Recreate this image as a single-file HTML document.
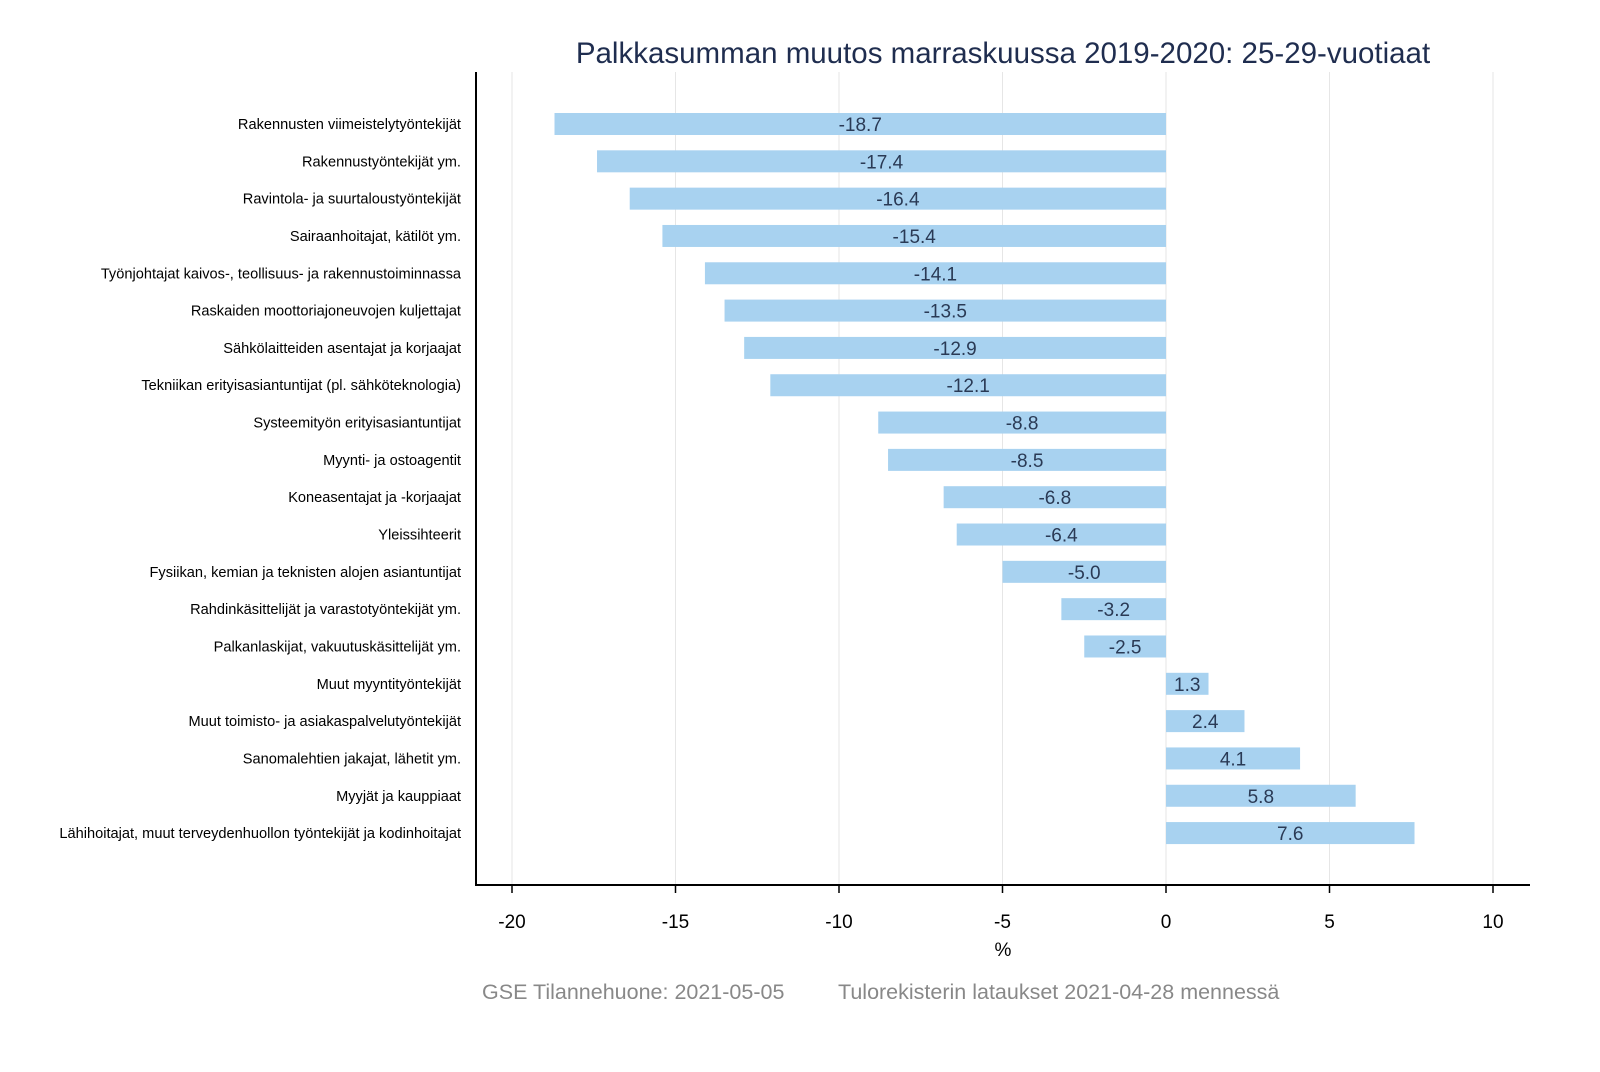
<!DOCTYPE html>
<html><head><meta charset="utf-8"><style>body{margin:0;background:#fff}</style></head><body>
<svg width="1600" height="1067" xmlns="http://www.w3.org/2000/svg" font-family="Liberation Sans, Arial, sans-serif">
<rect width="1600" height="1067" fill="#fff"/>
<text x="1003" y="63" text-anchor="middle" font-size="29.5" fill="#1f2d4f">Palkkasumman muutos marraskuussa 2019-2020: 25-29-vuotiaat</text>
<g stroke="#e6e6e6" stroke-width="1">
<line x1="512" y1="72" x2="512" y2="885"/><line x1="675.5" y1="72" x2="675.5" y2="885"/><line x1="839" y1="72" x2="839" y2="885"/><line x1="1002.5" y1="72" x2="1002.5" y2="885"/><line x1="1166" y1="72" x2="1166" y2="885"/><line x1="1329.5" y1="72" x2="1329.5" y2="885"/><line x1="1493" y1="72" x2="1493" y2="885"/>
</g>
<g id="bars" fill="#a8d2f0"></g>
<g id="vals" font-size="19" fill="#2a3a55" text-anchor="middle"></g>
<g id="labs" font-size="14.6" fill="#000" text-anchor="end"></g>
<line x1="476" y1="72" x2="476" y2="886" stroke="#000" stroke-width="2"/>
<line x1="475" y1="885" x2="1530" y2="885" stroke="#000" stroke-width="2"/>
<g stroke="#000" stroke-width="1.5">
<line x1="512" y1="885" x2="512" y2="893"/><line x1="675.5" y1="885" x2="675.5" y2="893"/><line x1="839" y1="885" x2="839" y2="893"/><line x1="1002.5" y1="885" x2="1002.5" y2="893"/><line x1="1166" y1="885" x2="1166" y2="893"/><line x1="1329.5" y1="885" x2="1329.5" y2="893"/><line x1="1493" y1="885" x2="1493" y2="893"/>
</g>
<g font-size="19" fill="#000" text-anchor="middle">
<text x="512" y="928">-20</text><text x="675.5" y="928">-15</text><text x="839" y="928">-10</text><text x="1002.5" y="928">-5</text><text x="1166" y="928">0</text><text x="1329.5" y="928">5</text><text x="1493" y="928">10</text>
<text x="1003" y="956">%</text>
</g>
<g font-size="21.5" fill="#888">
<text x="482" y="999">GSE Tilannehuone: 2021-05-05</text>
<text x="838" y="999">Tulorekisterin lataukset 2021-04-28 mennessä</text>
</g>
<script>
var d=[["Rakennusten viimeistelytyöntekijät",-18.7],["Rakennustyöntekijät ym.",-17.4],["Ravintola- ja suurtaloustyöntekijät",-16.4],["Sairaanhoitajat, kätilöt ym.",-15.4],["Työnjohtajat kaivos-, teollisuus- ja rakennustoiminnassa",-14.1],["Raskaiden moottoriajoneuvojen kuljettajat",-13.5],["Sähkölaitteiden asentajat ja korjaajat",-12.9],["Tekniikan erityisasiantuntijat (pl. sähköteknologia)",-12.1],["Systeemityön erityisasiantuntijat",-8.8],["Myynti- ja ostoagentit",-8.5],["Koneasentajat ja -korjaajat",-6.8],["Yleissihteerit",-6.4],["Fysiikan, kemian ja teknisten alojen asiantuntijat",-5.0],["Rahdinkäsittelijät ja varastotyöntekijät ym.",-3.2],["Palkanlaskijat, vakuutuskäsittelijät ym.",-2.5],["Muut myyntityöntekijät",1.3],["Muut toimisto- ja asiakaspalvelutyöntekijät",2.4],["Sanomalehtien jakajat, lähetit ym.",4.1],["Myyjät ja kauppiaat",5.8],["Lähihoitajat, muut terveydenhuollon työntekijät ja kodinhoitajat",7.6]];
var ns="http://www.w3.org/2000/svg",s=32.7,z=1166;
function el(p,t,a,tx){var e=document.createElementNS(ns,t);for(var k in a)e.setAttribute(k,a[k]);if(tx)e.textContent=tx;document.getElementById(p).appendChild(e);}
d.forEach(function(r,i){var y=124+i*37.32,v=r[1],x1=Math.min(z,z+v*s),w=Math.abs(v*s);
el("bars","rect",{x:x1,y:y-11,width:w,height:22});
el("vals","text",{x:x1+w/2,y:y+7},v.toFixed(1));
el("labs","text",{x:461,y:y+5},r[0]);});
</script>
</svg>
</body></html>
